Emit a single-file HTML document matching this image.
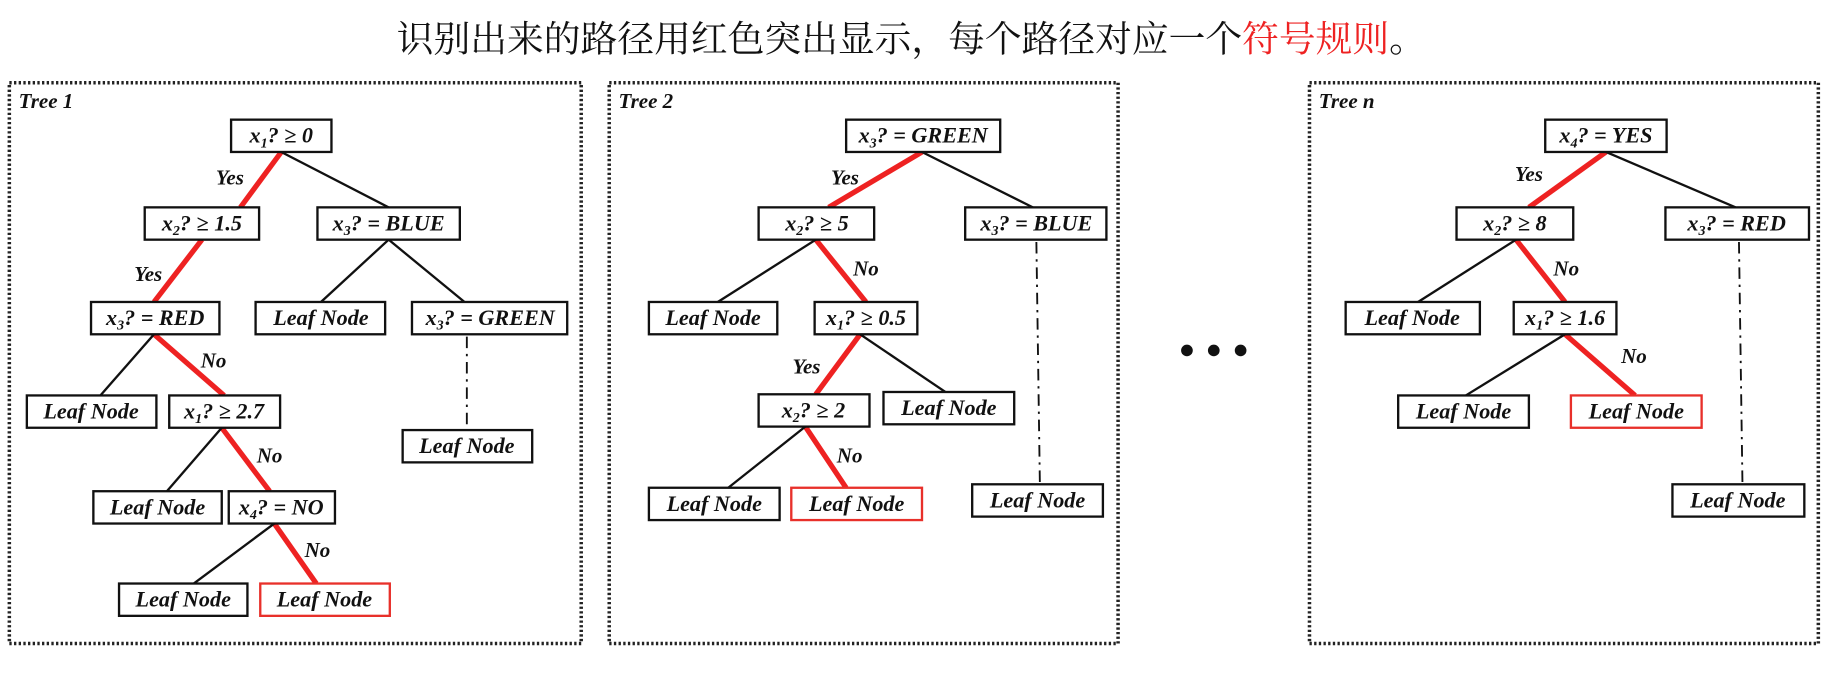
<!DOCTYPE html>
<html><head><meta charset="utf-8"><style>
html,body{margin:0;padding:0;background:#fff;}
svg{display:block;}
.n{fill:#fff;stroke:#111;stroke-width:2;}
.r{fill:#fff;stroke:#e8302a;stroke-width:2;}
.t{font-family:"Liberation Serif",serif;font-weight:bold;font-style:italic;font-size:19px;fill:#111;text-anchor:middle;}
.l{font-family:"Liberation Serif",serif;font-weight:bold;font-style:italic;font-size:18px;fill:#111;text-anchor:middle;}
.k{stroke:#111;stroke-width:2;fill:none;}
.red{stroke:#ee2222;stroke-width:4.5;fill:none;}
.d{stroke:#111;stroke-width:1.6;stroke-dasharray:10 5 2 5;fill:none;}
.f{fill:none;stroke:#222;stroke-width:3;stroke-dasharray:2 2;}
</style></head><body>
<svg width="1830" height="686" viewBox="0 -1.7 1568 594.5" preserveAspectRatio="none" xmlns="http://www.w3.org/2000/svg">
<text x="340" y="43" style="font-family:'Liberation Serif','Noto Serif CJK SC',serif;font-size:31.5px;fill:#111">识别出来的路径用红色突出显示，每个路径对应一个<tspan fill="#ee2222">符号规则</tspan>。</text>

<rect class="f" x="8" y="70" width="490" height="486"/>
<rect class="f" x="522" y="70" width="436" height="486"/>
<rect class="f" x="1122" y="70" width="436" height="486"/>
<text x="16" y="92" class="l" style="text-anchor:start">Tree 1</text>
<text x="530" y="92" class="l" style="text-anchor:start">Tree 2</text>
<text x="1130" y="92" class="l" style="text-anchor:start">Tree n</text>
<circle cx="1017" cy="302" r="5" fill="#111"/><circle cx="1040" cy="302" r="5" fill="#111"/><circle cx="1063" cy="302" r="5" fill="#111"/>

<!-- Tree 1 edges -->
<line class="red" x1="241" y1="130" x2="206" y2="178"/>
<line class="k" x1="241" y1="130" x2="333" y2="178"/>
<line class="red" x1="173" y1="206" x2="132" y2="260"/>
<line class="k" x1="333" y1="206" x2="275" y2="260"/>
<line class="k" x1="333" y1="206" x2="398" y2="260"/>
<line class="red" x1="132" y1="288" x2="192" y2="341"/>
<line class="k" x1="132" y1="288" x2="86" y2="341"/>
<line class="red" x1="190" y1="369" x2="231" y2="424"/>
<line class="k" x1="190" y1="369" x2="143" y2="424"/>
<line class="red" x1="235" y1="452" x2="271" y2="504"/>
<line class="k" x1="235" y1="452" x2="166" y2="504"/>
<line class="d" x1="400" y1="290" x2="400" y2="371"/>
<!-- Tree 1 nodes -->
<rect class="n" x="198" y="102" width="86" height="28"/>
<text class="t" x="241" y="122">x<tspan font-size="12" dy="4">1</tspan><tspan dy="-4">? ≥ 0</tspan></text>
<rect class="n" x="124" y="178" width="98" height="28"/>
<text class="t" x="173" y="198">x<tspan font-size="12" dy="4">2</tspan><tspan dy="-4">? ≥ 1.5</tspan></text>
<rect class="n" x="272" y="178" width="122" height="28"/>
<text class="t" x="333" y="198">x<tspan font-size="12" dy="4">3</tspan><tspan dy="-4">? = BLUE</tspan></text>
<rect class="n" x="78" y="260" width="110" height="28"/>
<text class="t" x="133" y="280">x<tspan font-size="12" dy="4">3</tspan><tspan dy="-4">? = RED</tspan></text>
<rect class="n" x="219" y="260" width="111" height="28"/>
<text class="t" x="275" y="280">Leaf Node</text>
<rect class="n" x="353" y="260" width="133" height="28"/>
<text class="t" x="420" y="280">x<tspan font-size="12" dy="4">3</tspan><tspan dy="-4">? = GREEN</tspan></text>
<rect class="n" x="23" y="341" width="111" height="28"/>
<text class="t" x="78" y="361">Leaf Node</text>
<rect class="n" x="145" y="341" width="95" height="28"/>
<text class="t" x="192" y="361">x<tspan font-size="12" dy="4">1</tspan><tspan dy="-4">? ≥ 2.7</tspan></text>
<rect class="n" x="345" y="371" width="111" height="28"/>
<text class="t" x="400" y="391">Leaf Node</text>
<rect class="n" x="80" y="424" width="110" height="28"/>
<text class="t" x="135" y="444">Leaf Node</text>
<rect class="n" x="196" y="424" width="91" height="28"/>
<text class="t" x="241" y="444">x<tspan font-size="12" dy="4">4</tspan><tspan dy="-4">? = NO</tspan></text>
<rect class="n" x="102" y="504" width="110" height="28"/>
<text class="t" x="157" y="524">Leaf Node</text>
<rect class="r" x="223" y="504" width="111" height="28"/>
<text class="t" x="278" y="524">Leaf Node</text>
<text class="l" x="197" y="158">Yes</text>
<text class="l" x="127" y="242">Yes</text>
<text class="l" x="183" y="317">No</text>
<text class="l" x="231" y="399">No</text>
<text class="l" x="272" y="481">No</text>

<!-- Tree 2 edges -->
<line class="red" x1="790" y1="130" x2="710" y2="178"/>
<line class="k" x1="790" y1="130" x2="885" y2="178"/>
<line class="red" x1="699" y1="206" x2="742" y2="260"/>
<line class="k" x1="699" y1="206" x2="615" y2="260"/>
<line class="red" x1="737" y1="288" x2="699" y2="340"/>
<line class="k" x1="737" y1="288" x2="810" y2="338"/>
<line class="red" x1="690" y1="368" x2="725" y2="421"/>
<line class="k" x1="690" y1="368" x2="624" y2="421"/>
<line class="d" x1="888" y1="208" x2="891" y2="418"/>
<!-- Tree 2 nodes -->
<rect class="n" x="725" y="102" width="132" height="28"/>
<text class="t" x="791" y="122">x<tspan font-size="12" dy="4">3</tspan><tspan dy="-4">? = GREEN</tspan></text>
<rect class="n" x="650" y="178" width="99" height="28"/>
<text class="t" x="700" y="198">x<tspan font-size="12" dy="4">2</tspan><tspan dy="-4">? ≥ 5</tspan></text>
<rect class="n" x="827" y="178" width="121" height="28"/>
<text class="t" x="888" y="198">x<tspan font-size="12" dy="4">3</tspan><tspan dy="-4">? = BLUE</tspan></text>
<rect class="n" x="556" y="260" width="110" height="28"/>
<text class="t" x="611" y="280">Leaf Node</text>
<rect class="n" x="698" y="260" width="88" height="28"/>
<text class="t" x="742" y="280">x<tspan font-size="12" dy="4">1</tspan><tspan dy="-4">? ≥ 0.5</tspan></text>
<rect class="n" x="650" y="340" width="95" height="28"/>
<text class="t" x="697" y="360">x<tspan font-size="12" dy="4">2</tspan><tspan dy="-4">? ≥ 2</tspan></text>
<rect class="n" x="757" y="338" width="112" height="28"/>
<text class="t" x="813" y="358">Leaf Node</text>
<rect class="n" x="556" y="421" width="112" height="28"/>
<text class="t" x="612" y="441">Leaf Node</text>
<rect class="r" x="678" y="421" width="112" height="28"/>
<text class="t" x="734" y="441">Leaf Node</text>
<rect class="n" x="833" y="418" width="112" height="28"/>
<text class="t" x="889" y="438">Leaf Node</text>
<text class="l" x="724" y="158">Yes</text>
<text class="l" x="742" y="237">No</text>
<text class="l" x="691" y="322">Yes</text>
<text class="l" x="728" y="399">No</text>

<!-- Tree n edges -->
<line class="red" x1="1376" y1="130" x2="1310" y2="178"/>
<line class="k" x1="1376" y1="130" x2="1487" y2="178"/>
<line class="red" x1="1299" y1="206" x2="1341" y2="260"/>
<line class="k" x1="1299" y1="206" x2="1215" y2="260"/>
<line class="red" x1="1341" y1="288" x2="1401" y2="341"/>
<line class="k" x1="1341" y1="288" x2="1256" y2="341"/>
<line class="d" x1="1490" y1="208" x2="1493" y2="418"/>
<!-- Tree n nodes -->
<rect class="n" x="1324" y="102" width="104" height="28"/>
<text class="t" x="1376" y="122">x<tspan font-size="12" dy="4">4</tspan><tspan dy="-4">? = YES</tspan></text>
<rect class="n" x="1248" y="178" width="100" height="28"/>
<text class="t" x="1298" y="198">x<tspan font-size="12" dy="4">2</tspan><tspan dy="-4">? ≥ 8</tspan></text>
<rect class="n" x="1427" y="178" width="123" height="28"/>
<text class="t" x="1488" y="198">x<tspan font-size="12" dy="4">3</tspan><tspan dy="-4">? = RED</tspan></text>
<rect class="n" x="1153" y="260" width="115" height="28"/>
<text class="t" x="1210" y="280">Leaf Node</text>
<rect class="n" x="1297" y="260" width="88" height="28"/>
<text class="t" x="1341" y="280">x<tspan font-size="12" dy="4">1</tspan><tspan dy="-4">? ≥ 1.6</tspan></text>
<rect class="n" x="1198" y="341" width="112" height="28"/>
<text class="t" x="1254" y="361">Leaf Node</text>
<rect class="r" x="1346" y="341" width="112" height="28"/>
<text class="t" x="1402" y="361">Leaf Node</text>
<rect class="n" x="1433" y="418" width="113" height="28"/>
<text class="t" x="1489" y="438">Leaf Node</text>
<text class="l" x="1310" y="155">Yes</text>
<text class="l" x="1342" y="237">No</text>
<text class="l" x="1400" y="313">No</text>
</svg>
</body></html>
